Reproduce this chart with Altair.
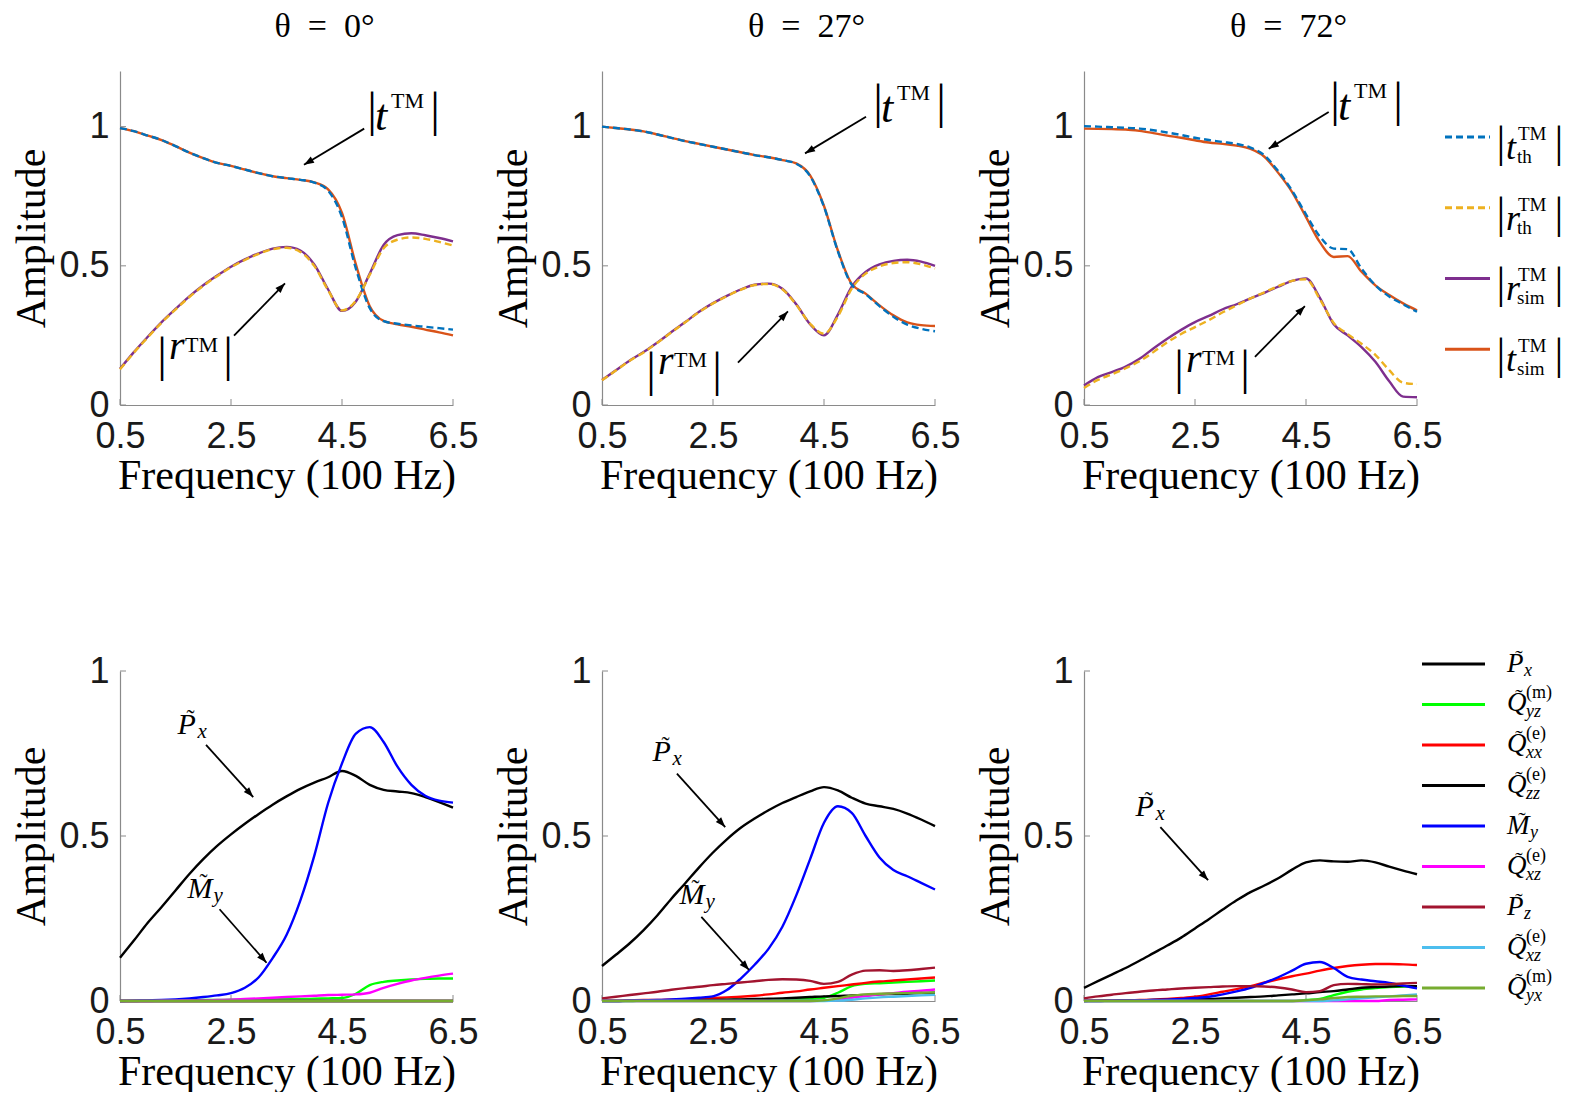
import math
import altair as alt
import pandas as pd

# ---------------- data ----------------
FREQ = [0.5, 0.75, 1.0, 1.25, 1.5, 1.75, 2.0, 2.25, 2.5, 2.75, 3.0, 3.25, 3.5,
        3.75, 4.0, 4.25, 4.5, 4.75, 5.0, 5.25, 5.5, 5.75, 6.0, 6.25, 6.5]
X_TICKS = [0.5, 2.5, 4.5, 6.5]
Y_TICKS = [0, 0.5, 1]
THETAS = ["θ\u2002=\u20020°", "θ\u2002=\u200227°", "θ\u2002=\u200272°"]

# top row: |t| and |r|, simulation (solid) and theory (dashed)
T_SIM_0 = [0.995, 0.984, 0.968, 0.952, 0.930, 0.907, 0.887, 0.870, 0.859, 0.846, 0.833, 0.822, 0.815,
           0.809, 0.800, 0.775, 0.690, 0.505, 0.355, 0.302, 0.290, 0.281, 0.271, 0.261, 0.250]
T_TH_0 = [0.995, 0.984, 0.968, 0.952, 0.930, 0.907, 0.887, 0.870, 0.859, 0.846, 0.833, 0.822, 0.815,
          0.809, 0.799, 0.770, 0.675, 0.490, 0.348, 0.301, 0.292, 0.286, 0.281, 0.276, 0.271]
R_SIM_0 = [0.130, 0.190, 0.245, 0.298, 0.345, 0.390, 0.430, 0.465, 0.497, 0.523, 0.545, 0.562, 0.568,
           0.555, 0.505, 0.415, 0.338, 0.372, 0.472, 0.575, 0.610, 0.617, 0.610, 0.600, 0.588]
R_TH_0 = [0.128, 0.188, 0.243, 0.296, 0.343, 0.388, 0.428, 0.463, 0.495, 0.521, 0.543, 0.560, 0.565,
          0.550, 0.500, 0.412, 0.340, 0.375, 0.468, 0.563, 0.594, 0.602, 0.597, 0.586, 0.573]

T_SIM_27 = [1.000, 0.995, 0.990, 0.983, 0.972, 0.960, 0.948, 0.938, 0.928, 0.918, 0.908, 0.898, 0.890,
            0.880, 0.868, 0.825, 0.715, 0.555, 0.435, 0.400, 0.358, 0.322, 0.297, 0.287, 0.284]
T_TH_27 = [1.000, 0.995, 0.990, 0.983, 0.972, 0.960, 0.948, 0.938, 0.928, 0.918, 0.908, 0.898, 0.890,
           0.880, 0.867, 0.822, 0.712, 0.552, 0.432, 0.398, 0.355, 0.317, 0.289, 0.274, 0.265]
R_SIM_27 = [0.090, 0.125, 0.160, 0.190, 0.225, 0.262, 0.298, 0.335, 0.366, 0.392, 0.415, 0.432, 0.436,
            0.418, 0.362, 0.290, 0.250, 0.325, 0.425, 0.478, 0.505, 0.518, 0.522, 0.515, 0.500]
R_TH_27 = [0.089, 0.124, 0.159, 0.189, 0.224, 0.261, 0.297, 0.334, 0.365, 0.391, 0.414, 0.431, 0.435,
           0.416, 0.360, 0.292, 0.256, 0.318, 0.418, 0.472, 0.498, 0.510, 0.513, 0.505, 0.490]

T_SIM_72 = [0.993, 0.992, 0.991, 0.990, 0.985, 0.977, 0.968, 0.960, 0.951, 0.943, 0.938, 0.932, 0.920,
            0.892, 0.834, 0.765, 0.675, 0.585, 0.532, 0.535, 0.479, 0.430, 0.395, 0.365, 0.340]
T_TH_72 = [1.002, 1.000, 0.998, 0.996, 0.993, 0.987, 0.979, 0.970, 0.960, 0.952, 0.945, 0.938, 0.925,
           0.897, 0.840, 0.770, 0.685, 0.605, 0.562, 0.560, 0.490, 0.430, 0.390, 0.362, 0.335]
R_SIM_72 = [0.070, 0.100, 0.118, 0.138, 0.166, 0.203, 0.238, 0.270, 0.298, 0.320, 0.344, 0.362, 0.383,
            0.403, 0.425, 0.446, 0.455, 0.385, 0.290, 0.250, 0.208, 0.155, 0.085, 0.030, 0.028]
R_TH_72 = [0.061, 0.090, 0.110, 0.132, 0.157, 0.190, 0.225, 0.255, 0.280, 0.305, 0.333, 0.358, 0.383,
           0.405, 0.427, 0.446, 0.452, 0.380, 0.295, 0.255, 0.220, 0.180, 0.125, 0.080, 0.075]

# bottom row: multipole amplitudes
PX_0 = [0.131, 0.183, 0.237, 0.285, 0.335, 0.385, 0.430, 0.470, 0.505, 0.537, 0.567, 0.595, 0.620,
        0.643, 0.662, 0.678, 0.697, 0.682, 0.655, 0.640, 0.635, 0.630, 0.618, 0.603, 0.586]
QYZM_0 = [0.000, 0.000, 0.001, 0.001, 0.002, 0.002, 0.003, 0.003, 0.004, 0.004, 0.005, 0.005, 0.006,
          0.006, 0.007, 0.008, 0.009, 0.022, 0.048, 0.058, 0.062, 0.065, 0.067, 0.068, 0.068]
QXXE_0 = [0, 0, 0, 0, 0, 0, 0, 0, 0, 0, 0, 0, 0, 0, 0, 0, 0, 0, 0, 0, 0, 0, 0, 0, 0]
QZZE_0 = [0, 0, 0, 0, 0, 0, 0, 0, 0, 0, 0, 0, 0, 0, 0, 0, 0, 0, 0, 0, 0, 0, 0, 0, 0]
MY_0 = [0.000, 0.001, 0.002, 0.003, 0.005, 0.008, 0.012, 0.017, 0.024, 0.040, 0.072, 0.130, 0.200,
        0.305, 0.440, 0.600, 0.720, 0.810, 0.830, 0.785, 0.710, 0.655, 0.622, 0.607, 0.601]
QXZE_0 = [0.000, 0.000, 0.000, 0.001, 0.001, 0.002, 0.002, 0.003, 0.004, 0.006, 0.008, 0.010, 0.012,
          0.014, 0.016, 0.018, 0.019, 0.020, 0.025, 0.040, 0.052, 0.062, 0.070, 0.077, 0.083]
PZ_0 = [0, 0, 0, 0, 0, 0, 0, 0, 0, 0, 0, 0, 0, 0, 0, 0, 0, 0, 0, 0, 0, 0, 0, 0, 0]
QXZE2_0 = [0, 0, 0, 0, 0, 0, 0, 0, 0, 0, 0, 0, 0, 0, 0, 0, 0, 0, 0, 0, 0, 0, 0, 0, 0]
QYXM_0 = [0, 0, 0, 0, 0, 0, 0, 0, 0, 0, 0, 0, 0, 0, 0, 0, 0, 0, 0, 0, 0, 0, 0, 0, 0]

PX_27 = [0.106, 0.140, 0.175, 0.215, 0.260, 0.310, 0.357, 0.405, 0.450, 0.490, 0.525, 0.553, 0.578,
         0.600, 0.618, 0.635, 0.648, 0.638, 0.616, 0.598, 0.590, 0.582, 0.568, 0.550, 0.530]
QYZM_27 = [0.000, 0.000, 0.000, 0.001, 0.001, 0.001, 0.002, 0.002, 0.002, 0.003, 0.003, 0.003, 0.004,
           0.004, 0.005, 0.006, 0.010, 0.025, 0.045, 0.052, 0.054, 0.056, 0.058, 0.060, 0.062]
QXXE_27 = [0.001, 0.001, 0.002, 0.003, 0.003, 0.004, 0.005, 0.007, 0.009, 0.011, 0.013, 0.016, 0.020,
           0.025, 0.029, 0.035, 0.040, 0.045, 0.050, 0.055, 0.059, 0.062, 0.065, 0.068, 0.071]
QZZE_27 = [0.000, 0.000, 0.001, 0.001, 0.001, 0.002, 0.002, 0.003, 0.003, 0.004, 0.005, 0.006, 0.007,
           0.008, 0.010, 0.012, 0.014, 0.015, 0.017, 0.018, 0.020, 0.021, 0.022, 0.024, 0.025]
MY_27 = [0.000, 0.000, 0.001, 0.002, 0.003, 0.005, 0.007, 0.010, 0.014, 0.033, 0.068, 0.110, 0.158,
         0.225, 0.320, 0.430, 0.540, 0.590, 0.570, 0.500, 0.435, 0.397, 0.378, 0.358, 0.338]
QXZE_27 = [0, 0, 0, 0, 0, 0, 0, 0, 0, 0, 0, 0, 0, 0, 0, 0,
           0.001, 0.003, 0.010, 0.015, 0.020, 0.024, 0.028, 0.031, 0.035]
PZ_27 = [0.008, 0.013, 0.018, 0.023, 0.028, 0.034, 0.039, 0.043, 0.048, 0.052, 0.056, 0.060, 0.064,
         0.066, 0.065, 0.061, 0.052, 0.058, 0.080, 0.092, 0.093, 0.091, 0.093, 0.097, 0.101]
QXZE2_27 = [0, 0, 0, 0, 0, 0, 0, 0, 0, 0, 0, 0, 0, 0, 0, 0, 0,
            0.001, 0.004, 0.008, 0.011, 0.013, 0.015, 0.017, 0.019]
QYXM_27 = [0, 0, 0, 0, 0, 0, 0, 0, 0, 0, 0, 0, 0, 0, 0, 0,
           0.002, 0.008, 0.016, 0.020, 0.022, 0.023, 0.024, 0.025, 0.026]

PX_72 = [0.040, 0.060, 0.080, 0.100, 0.122, 0.145, 0.168, 0.192, 0.220, 0.248, 0.277, 0.305, 0.330,
         0.350, 0.372, 0.398, 0.420, 0.426, 0.423, 0.422, 0.426, 0.420, 0.407, 0.395, 0.384]
QYZM_72 = [0, 0, 0, 0, 0, 0, 0, 0, 0, 0, 0, 0, 0, 0, 0, 0,
           0.003, 0.006, 0.018, 0.028, 0.035, 0.039, 0.042, 0.044, 0.045]
QXXE_72 = [0.001, 0.001, 0.002, 0.002, 0.003, 0.004, 0.006, 0.009, 0.013, 0.020, 0.028, 0.036, 0.045,
           0.056, 0.066, 0.075, 0.083, 0.092, 0.100, 0.106, 0.110, 0.112, 0.112, 0.111, 0.109]
QZZE_72 = [0.000, 0.001, 0.001, 0.002, 0.002, 0.003, 0.003, 0.004, 0.005, 0.006, 0.008, 0.010, 0.012,
           0.014, 0.017, 0.020, 0.023, 0.027, 0.030, 0.035, 0.040, 0.042, 0.044, 0.045, 0.045]
MY_72 = [0.000, 0.000, 0.001, 0.001, 0.002, 0.003, 0.004, 0.006, 0.009, 0.013, 0.020, 0.029, 0.040,
         0.055, 0.072, 0.092, 0.113, 0.118, 0.100, 0.073, 0.065, 0.060, 0.055, 0.047, 0.038]
QXZE_72 = [0, 0, 0, 0, 0, 0, 0, 0, 0, 0, 0, 0, 0, 0, 0, 0, 0, 0, 0, 0, 0, 0,
           0.003, 0.004, 0.005]
PZ_72 = [0.008, 0.014, 0.019, 0.024, 0.028, 0.032, 0.035, 0.038, 0.040, 0.042, 0.044, 0.045, 0.045,
         0.044, 0.041, 0.035, 0.027, 0.030, 0.048, 0.052, 0.051, 0.050, 0.051, 0.053, 0.055]
QXZE2_72 = [0, 0, 0, 0, 0, 0, 0, 0, 0, 0, 0, 0, 0, 0, 0, 0, 0, 0,
            0.002, 0.005, 0.008, 0.011, 0.014, 0.017, 0.020]
QYXM_72 = [0, 0, 0, 0, 0, 0, 0, 0, 0, 0, 0, 0, 0, 0, 0, 0,
           0.002, 0.005, 0.009, 0.012, 0.013, 0.014, 0.014, 0.015, 0.015]

# annotation arrows (tail x, tail y, tip x, tip y) in data units
TOP_ARROWS = [
    [(4.90, 0.993, 3.815, 0.863), (2.554, 0.249, 3.473, 0.437)],
    [(5.257, 1.036, 4.158, 0.904), (2.95, 0.152, 3.85, 0.336)],
    [(4.909, 1.053, 3.828, 0.921), (3.58, 0.173, 4.48, 0.355)],
]
BOT_ARROWS = [
    [(2.05, 0.776, 2.90, 0.618), (2.294, 0.278, 3.14, 0.116)],
    [(1.85, 0.689, 2.72, 0.527), (2.29, 0.255, 3.15, 0.094)],
    [(1.876, 0.527, 2.736, 0.366)],
]
# label anchors (x, y) in data units
TOP_T_LABEL = [(5.04, 0.989), (5.473, 1.018), (5.023, 1.025)]
TOP_R_LABEL = [(1.257, 0.166), (1.383, 0.112), (2.212, 0.119)]
BOT_P_LABEL = [(1.536, 0.809), (1.41, 0.727), (1.427, 0.56)]
BOT_M_LABEL = [(1.718, 0.312), (1.895, 0.294), None]

# ---------------- styling ----------------
SERIF = "Liberation Serif"
SANS = "Liberation Sans"
GREY = "#8a8a8a"
C_T_TH, C_R_TH, C_R_SIM, C_T_SIM = "#0072BD", "#EDB120", "#7E2F8E", "#D95319"
BOT_COLORS = ["#000000", "#00FF00", "#FF0000", "#000000", "#0000FF",
              "#FF00FF", "#A2142F", "#4DBEEE", "#77AC30"]
DASH = [7, 4]
HEAD = "M0,0 L-0.36,1 L0.36,1 Z"

W = 333
TOP_H, TOP_YMAX = 334, 1.2
BOT_H, BOT_YMAX = 330, 1.0


def enc_xy(ymax):
    xs = alt.Scale(domain=[0.5, 6.5], nice=False, zero=False)
    ys = alt.Scale(domain=[0, ymax], nice=False, zero=False)
    xa = alt.Axis(values=X_TICKS, format=".1f", title="Frequency (100 Hz)",
                  labelPadding=14, titlePadding=1, labelFlush=False)
    ya = alt.Axis(values=Y_TICKS, labelExpr="datum.value", title="Amplitude",
                  labelPadding=11, titlePadding=5)
    return alt.X("f:Q", scale=xs, axis=xa), alt.Y("a:Q", scale=ys, axis=ya)


def text_layers(x, y, elements, X, Y):
    df = pd.DataFrame({"f": [x], "a": [y]})
    out = []
    for (t, size, dx, dy, italic, align) in elements:
        out.append(alt.Chart(df).mark_text(
            text=t, font=SERIF, fontSize=size, fontStyle="italic" if italic else "normal",
            dx=dx, dy=dy, align=align, baseline="alphabetic", color="black"
        ).encode(x=X, y=Y))
    return out


def t_label(letter):
    return [("|", 48, 0, -4, False, "center"), (letter, 44, 3, 0, True, "left"),
            ("TM", 22, 19, -22, False, "left"), ("|", 48, 63, -4, False, "center")]


def r_label(letter):
    return [("|", 48, 0, 12, False, "center"), (letter, 40, 7, 0, True, "left"),
            ("TM", 22, 23, -7, False, "left"), ("|", 48, 66, 12, False, "center")]


def tilde_label(letter, sub, sub_dx, tilde_dx):
    return [(letter, 30, 0, 0, True, "left"), ("˜", 24, tilde_dx, -8, False, "center"),
            (sub, 21, sub_dx, 4, True, "left")]


def panel(series, ymax, h, arrows, labels, title=None):
    X, Y = enc_xy(ymax)
    sx, sy = W / 6.0, h / ymax
    layers = []
    tdx = pd.DataFrame({"f": X_TICKS, "a": [0, 0, 0, 0], "a2": [6 / sy] * 4})
    layers.append(alt.Chart(tdx).mark_rule(color=GREY, strokeWidth=1).encode(
        x=X, y=Y, y2=alt.Y2("a2")))
    tdy = pd.DataFrame({"f": [0.5, 0.5, 0.5], "f2": [0.5 + 6 / sx] * 3, "a": Y_TICKS})
    layers.append(alt.Chart(tdy).mark_rule(color=GREY, strokeWidth=1).encode(
        x=X, x2=alt.X2("f2"), y=Y))
    for vals, color, dash in series:
        df = pd.DataFrame({"f": FREQ, "a": vals})
        kw = dict(color=color, strokeWidth=2.4, interpolate="monotone")
        if dash:
            kw["strokeDash"] = dash
        layers.append(alt.Chart(df).mark_line(**kw).encode(x=X, y=Y))
    for (x0, y0, x1, y1) in arrows:
        ang = math.degrees(math.atan2((x1 - x0) * sx, (y1 - y0) * sy)) % 360
        da = pd.DataFrame({"f": [x0], "a": [y0], "f2": [x1], "a2": [y1]})
        layers.append(alt.Chart(da).mark_rule(color="black", strokeWidth=1.8).encode(
            x=X, y=Y, x2=alt.X2("f2"), y2=alt.Y2("a2")))
        dh = pd.DataFrame({"f": [x1], "a": [y1], "ang": [ang]})
        layers.append(alt.Chart(dh).mark_point(
            shape=HEAD, filled=True, size=400, color="black", opacity=1, strokeWidth=0
        ).encode(x=X, y=Y, angle=alt.Angle("ang:Q", scale=None)))
    for (x, y, elements) in labels:
        layers += text_layers(x, y, elements, X, Y)
    ch = alt.layer(*layers).properties(width=W, height=h)
    if title:
        ch = ch.properties(title=alt.TitleParams(
            text=title, font=SERIF, fontSize=34, fontWeight="normal", anchor="middle",
            frame="group", dx=38, offset=0, baseline="alphabetic", color="black"))
    return ch


def legend_panel(h, domain, entries):
    X = alt.X("f:Q", scale=alt.Scale(domain=[0, 1], nice=False, zero=False), axis=None)
    Y = alt.Y("a:Q", scale=alt.Scale(domain=domain, nice=False, zero=False, reverse=True), axis=None)
    layers = []
    for i, (color, dash, sw0, sw1, tx, elements) in enumerate(entries):
        df = pd.DataFrame({"f": [sw0], "f2": [sw1], "a": [i]})
        kw = dict(color=color, strokeWidth=3)
        if dash:
            kw["strokeDash"] = dash
        layers.append(alt.Chart(df).mark_rule(**kw).encode(x=X, x2=alt.X2("f2"), y=Y))
        layers += text_layers(tx, i, elements, X, Y)
    return alt.layer(*layers).properties(width=1, height=h)


# ---------------- top row ----------------
top_data = [(T_SIM_0, R_SIM_0, T_TH_0, R_TH_0),
            (T_SIM_27, R_SIM_27, T_TH_27, R_TH_27),
            (T_SIM_72, R_SIM_72, T_TH_72, R_TH_72)]
top_panels = []
for k, (ts, rs, tt, rt) in enumerate(top_data):
    series = [(ts, C_T_SIM, None), (rs, C_R_SIM, None), (tt, C_T_TH, DASH), (rt, C_R_TH, DASH)]
    labels = [(TOP_T_LABEL[k][0], TOP_T_LABEL[k][1], t_label("t")),
              (TOP_R_LABEL[k][0], TOP_R_LABEL[k][1], r_label("r"))]
    top_panels.append(panel(series, TOP_YMAX, TOP_H, TOP_ARROWS[k], labels, THETAS[k]))


def top_leg_elems(letter, sub):
    return [("|", 44, 0, 20, False, "center"), (letter, 36, 5, 22, True, "left"),
            ("TM", 19, 17, 3, False, "left"), (sub, 19, 16, 26, False, "left"),
            ("|", 44, 58, 20, False, "center")]


top_leg = legend_panel(TOP_H, [-0.934, 3.79], [
    (C_T_TH, DASH, -121, -76, -65, top_leg_elems("t", "th")),
    (C_R_TH, DASH, -121, -76, -65, top_leg_elems("r", "th")),
    (C_R_SIM, None, -121, -76, -65, top_leg_elems("r", "sim")),
    (C_T_SIM, None, -121, -76, -65, top_leg_elems("t", "sim")),
])

# ---------------- bottom row ----------------
bot_data = [
    (PX_0, QYZM_0, QXXE_0, QZZE_0, MY_0, QXZE_0, PZ_0, QXZE2_0, QYXM_0),
    (PX_27, QYZM_27, QXXE_27, QZZE_27, MY_27, QXZE_27, PZ_27, QXZE2_27, QYXM_27),
    (PX_72, QYZM_72, QXXE_72, QZZE_72, MY_72, QXZE_72, PZ_72, QXZE2_72, QYXM_72),
]
bot_panels = []
for k, group in enumerate(bot_data):
    series = [(vals, BOT_COLORS[j], None) for j, vals in enumerate(group)]
    labels = [(BOT_P_LABEL[k][0], BOT_P_LABEL[k][1], tilde_label("P", "x", 20, 13))]
    if BOT_M_LABEL[k] is not None:
        labels.append((BOT_M_LABEL[k][0], BOT_M_LABEL[k][1], tilde_label("M", "y", 26, 16)))
    bot_panels.append(panel(series, BOT_YMAX, BOT_H, BOT_ARROWS[k], labels))


def leg_single(letter, sub, sub_dx, tdx):
    return [(letter, 27, 0, 8, True, "left"), ("˜", 22, tdx, 1, False, "center"),
            (sub, 18, sub_dx, 12, True, "left")]


def leg_q(sup, sub):
    return [("Q", 27, 0, 7, True, "left"), ("˜", 22, 12, 0, False, "center"),
            (sup, 18, 19, -6, False, "left"), (sub, 18, 19, 13, True, "left")]


BOT_LEG_LABELS = [
    leg_single("P", "x", 17, 12),
    leg_q("(m)", "yz"),
    leg_q("(e)", "xx"),
    leg_q("(e)", "zz"),
    leg_single("M", "y", 23, 15),
    leg_q("(e)", "xz"),
    leg_single("P", "z", 17, 12),
    leg_q("(e)", "xz"),
    leg_q("(m)", "yx"),
]
bot_leg = legend_panel(BOT_H, [0.173, 8.32], [
    (BOT_COLORS[j], None, -144, -81, -59, BOT_LEG_LABELS[j]) for j in range(9)
])

chart = alt.concat(
    top_panels[0], top_panels[1], top_panels[2], top_leg,
    bot_panels[0], bot_panels[1], bot_panels[2], bot_leg,
    columns=4, spacing={"row": 266, "column": 149}, bounds="flush",
).properties(
    padding={"left": 2, "top": 2, "right": 0, "bottom": 0}
).configure_view(strokeWidth=0).configure_axis(
    domainColor=GREY, domainWidth=1.2, grid=False, ticks=False,
    labelFont=SANS, labelFontSize=36, labelColor="#1a1a1a",
    titleFont=SERIF, titleFontSize=42, titleFontWeight="normal", titleColor="black",
)

chart.save("out.html", embed_options={"renderer": "svg", "actions": False})
